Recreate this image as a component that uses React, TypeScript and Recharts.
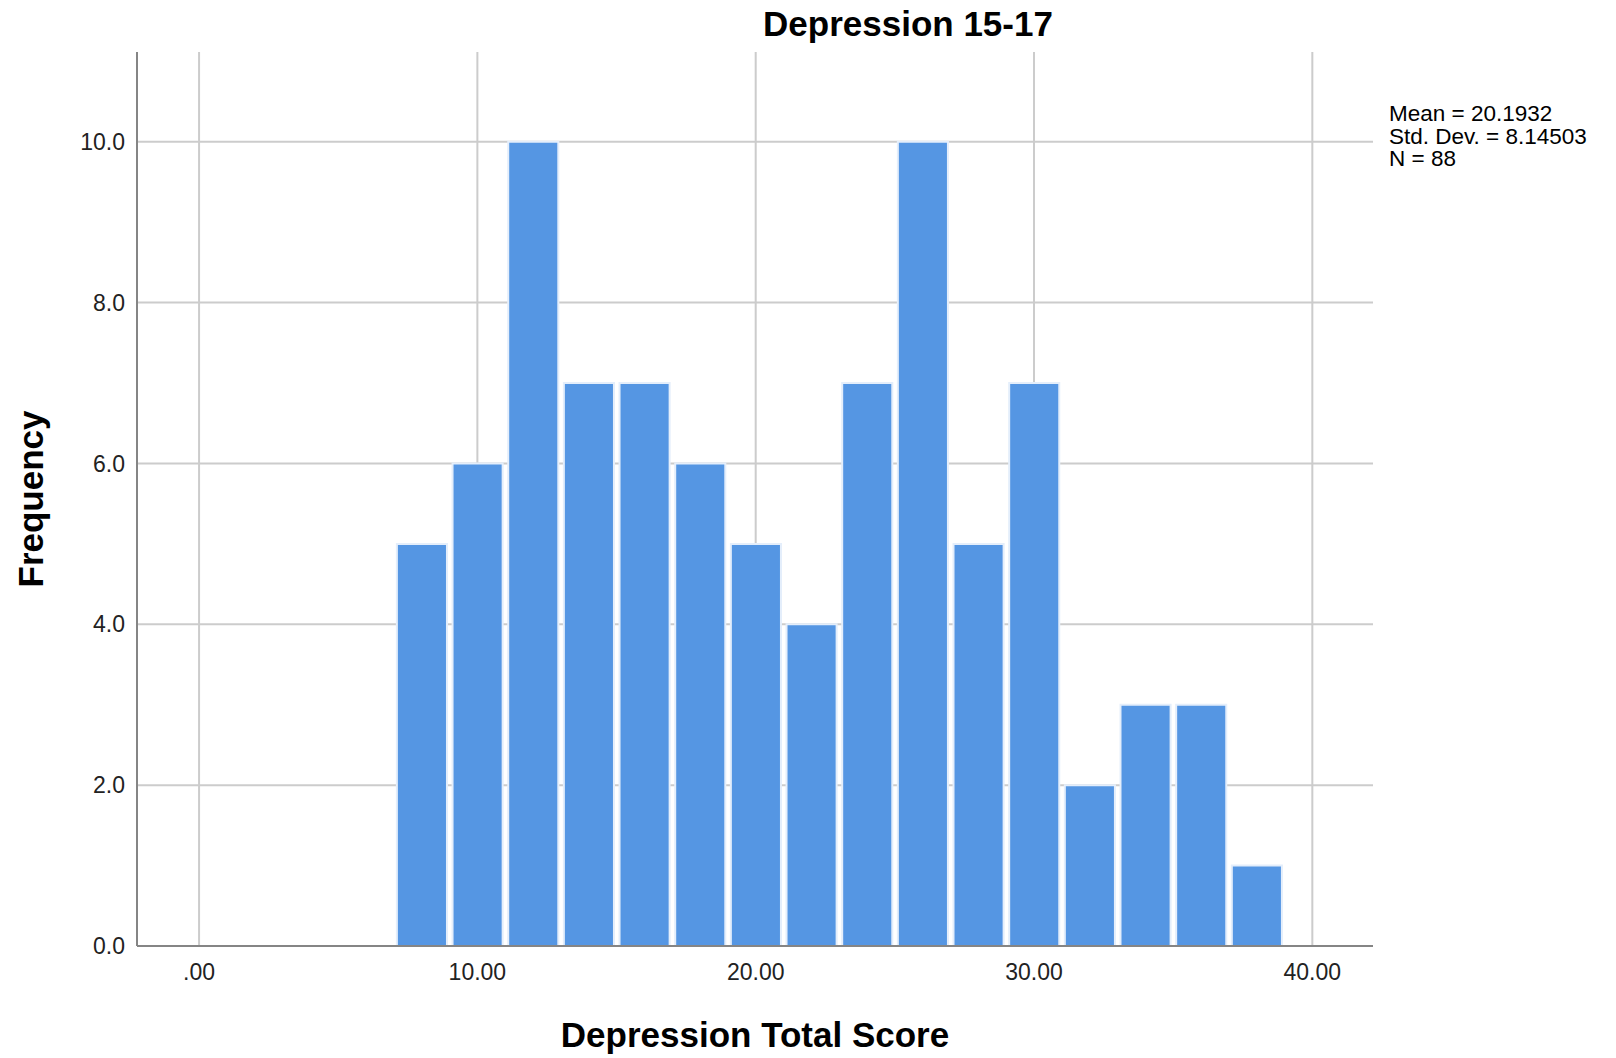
import { Bar, CartesianGrid, ComposedChart, XAxis, YAxis } from 'recharts';

// histogram bins (lower edge, width 2) and frequencies
const binStarts = [7, 9, 11, 13, 15, 17, 19, 21, 23, 25, 27, 29, 31, 33, 35, 37];
const binWidth = 2;
const counts = [5, 6, 10, 7, 7, 6, 5, 4, 7, 10, 5, 7, 2, 3, 3, 1];

const xTicks = [0, 10, 20, 30, 40];
const yTicks = [0, 2, 4, 6, 8, 10];
const statLines = ['Mean = 20.1932', 'Std. Dev. = 8.14503', 'N = 88'];

const data = binStarts.map((s, i) => ({ mid: s + binWidth / 2, count: counts[i] }));

const W = 1616;
const H = 1058;
const margin = { top: 52, right: 243, bottom: 52, left: 0 };
const yAxisWidth = 137;
const xAxisHeight = 60;
const xDomain: [number, number] = [-2.23, 42.18];
const yDomain: [number, number] = [0, 11.116];

const plotWidth = W - margin.left - margin.right - yAxisWidth;
const barPx = (binWidth * plotWidth) / (xDomain[1] - xDomain[0]);

const font = '"Liberation Sans", Arial, sans-serif';

// grid only at the tick values (no border lines at the plot edges)
const hGrid = ({ offset }: any) =>
  yTicks.map((t) => offset.top + offset.height * (1 - (t - yDomain[0]) / (yDomain[1] - yDomain[0])));
const vGrid = ({ offset }: any) =>
  xTicks.map((t) => offset.left + (offset.width * (t - xDomain[0])) / (xDomain[1] - xDomain[0]));

export default function App() {
  return (
    <div style={{ position: 'absolute', left: 0, top: 0, width: W, height: H, background: '#fff' }}>
      <ComposedChart width={W} height={H} data={data} margin={margin} barCategoryGap={0} barGap={0}>
        <CartesianGrid
          stroke="#cccccc"
          strokeWidth={2}
          horizontalCoordinatesGenerator={hGrid}
          verticalCoordinatesGenerator={vGrid}
        />
        <XAxis
          type="number"
          dataKey="mid"
          domain={xDomain}
          allowDataOverflow
          ticks={xTicks}
          height={xAxisHeight}
          tickFormatter={(v: number) => (v === 0 ? '.00' : v.toFixed(2))}
          tickLine={false}
          tickSize={6}
          tickMargin={12}
          axisLine={{ stroke: '#858585', strokeWidth: 2 }}
          tick={{ fill: '#222', fontSize: 23, fontFamily: font }}
        />
        <YAxis
          type="number"
          domain={yDomain}
          allowDataOverflow
          ticks={yTicks}
          width={yAxisWidth}
          tickFormatter={(v: number) => v.toFixed(1)}
          tickLine={false}
          tickSize={6}
          tickMargin={6}
          axisLine={{ stroke: '#858585', strokeWidth: 2 }}
          tick={{ fill: '#222', fontSize: 23, fontFamily: font }}
        />
        <Bar
          dataKey="count"
          fill="#5596e3"
          stroke="#e4eefb"
          strokeWidth={2}
          barSize={barPx}
          isAnimationActive={false}
        />
      </ComposedChart>
      <svg
        width={W}
        height={H}
        style={{ position: 'absolute', left: 0, top: 0, pointerEvents: 'none' }}
        fontFamily={font}
      >
        <text x={908} y={36} textAnchor="middle" fontSize={35} fontWeight="bold" fill="#000">
          Depression 15-17
        </text>
        <text
          x={43}
          y={499}
          textAnchor="middle"
          fontSize={35}
          fontWeight="bold"
          fill="#000"
          transform="rotate(-90, 43, 499)"
        >
          Frequency
        </text>
        <text x={755} y={1047} textAnchor="middle" fontSize={35} fontWeight="bold" fill="#000">
          Depression Total Score
        </text>
        {statLines.map((s, i) => (
          <text key={s} x={1389} y={121 + i * 22.7} fontSize={22.5} fill="#000">
            {s}
          </text>
        ))}
      </svg>
    </div>
  );
}
